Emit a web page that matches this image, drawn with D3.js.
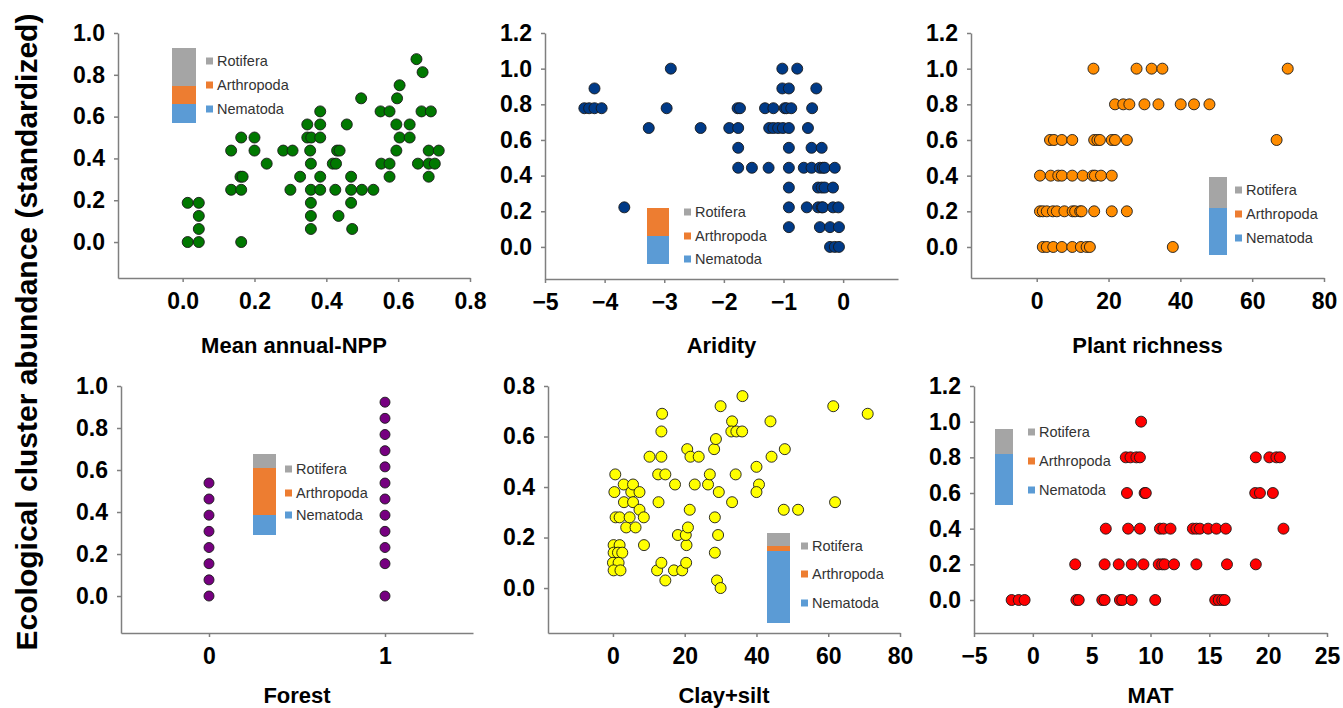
<!DOCTYPE html>
<html>
<head>
<meta charset="utf-8">
<script src="https://cdn.jsdelivr.net/npm/d3@7"></script>
<style>
body { margin: 0; background: #fff; }
svg { font-family: "Liberation Sans", Arial, sans-serif; }
.axis path, .axis line { stroke: #7f7f7f; stroke-width: 1.5px; }
.axis text { font-size: 23px; font-weight: bold; fill: #000; }
.title { font-size: 22px; font-weight: bold; text-anchor: middle; }
.leg text { font-size: 14.5px; fill: #333; }
.dot { stroke: #1a1a1a; stroke-width: 0.9px; }
</style>
</head>
<body>
<script>

// ---- data ----
var nppPoints = [[0.014,0],[0.045,0],[0.014,0.1875],[0.045,0.1875],[0.045,0.125],[0.045,0.0625],[0.163,0],
  [0.135,0.25],[0.163,0.25],[0.135,0.4375],[0.163,0.5],[0.161,0.3125],[0.167,0.3125],[0.2,0.5],[0.2,0.4375],
  [0.234,0.375],[0.28,0.4375],[0.306,0.4375],[0.30,0.25],[0.327,0.3125],[0.347,0.5625],[0.347,0.5],[0.358,0.5],
  [0.355,0.4375],[0.357,0.375],[0.357,0.25],[0.357,0.1875],[0.357,0.125],[0.357,0.0625],[0.383,0.625],
  [0.383,0.5625],[0.383,0.5],[0.383,0.3125],[0.383,0.25],[0.418,0.375],[0.427,0.375],[0.43,0.4375],
  [0.437,0.4375],[0.425,0.25],[0.434,0.125],[0.457,0.5625],[0.469,0.3125],[0.469,0.25],[0.469,0.1875],
  [0.472,0.0625],[0.499,0.25],[0.497,0.6875],[0.531,0.25],[0.551,0.625],[0.553,0.375],[0.576,0.625],
  [0.576,0.375],[0.576,0.3125],[0.597,0.6875],[0.604,0.75],[0.595,0.5625],[0.595,0.4375],[0.604,0.5],
  [0.632,0.5625],[0.632,0.5],[0.651,0.875],[0.668,0.8125],[0.665,0.625],[0.691,0.625],[0.655,0.375],
  [0.685,0.4375],[0.713,0.4375],[0.685,0.375],[0.702,0.375],[0.685,0.3125]];

var aridityPoints = [[-2.89,1],[-1.02,1],[-0.77,1],
  [-4.17,0.889],[-1.02,0.889],[-0.91,0.889],[-0.45,0.889],
  [-4.34,0.778],[-4.26,0.778],[-4.17,0.778],[-4.05,0.778],[-2.96,0.778],[-1.77,0.778],[-1.73,0.778],
  [-1.31,0.778],[-1.17,0.778],[-0.98,0.778],[-0.95,0.778],[-0.87,0.778],[-0.52,0.778],
  [-3.26,0.667],[-2.39,0.667],[-1.91,0.667],[-1.76,0.667],[-1.24,0.667],[-1.17,0.667],[-1.09,0.667],
  [-1.01,0.667],[-0.91,0.667],[-0.59,0.667],
  [-1.76,0.556],[-0.91,0.556],[-0.53,0.556],[-0.36,0.556],
  [-1.76,0.444],[-1.53,0.444],[-1.25,0.444],[-0.91,0.444],[-0.66,0.444],[-0.53,0.444],[-0.39,0.444],
  [-0.34,0.444],[-0.31,0.444],[-0.14,0.444],
  [-0.91,0.333],[-0.42,0.333],[-0.36,0.333],[-0.31,0.333],[-0.17,0.333],
  [-3.67,0.222],[-0.91,0.222],[-0.61,0.222],[-0.42,0.222],[-0.36,0.222],[-0.34,0.222],[-0.17,0.222],[-0.08,0.222],
  [-0.91,0.111],[-0.39,0.111],[-0.22,0.111],[-0.07,0.111],
  [-0.22,0],[-0.14,0],[-0.07,0]];

var richnessPoints = [[15.8,1],[27.8,1],[32.0,1],[35.0,1],[69.9,1],
  [21.8,0.8],[24.1,0.8],[25.8,0.8],[30.0,0.8],[33.9,0.8],[40.1,0.8],[43.8,0.8],[48.1,0.8],
  [3.7,0.6],[4.8,0.6],[7.0,0.6],[9.9,0.6],[16.0,0.6],[16.9,0.6],[17.6,0.6],[20.9,0.6],[21.8,0.6],[25.1,0.6],[66.8,0.6],
  [0.9,0.4],[3.9,0.4],[6.0,0.4],[7.0,0.4],[9.9,0.4],[12.8,0.4],[15.6,0.4],[16.2,0.4],[17.9,0.4],[20.9,0.4],
  [0.9,0.2],[1.7,0.2],[2.8,0.2],[4.5,0.2],[5.6,0.2],[7.7,0.2],[10.0,0.2],[10.7,0.2],[12.1,0.2],[12.5,0.2],
  [16.0,0.2],[20.9,0.2],[25.1,0.2],
  [1.7,0],[2.8,0],[4.6,0],[7.0,0],[9.9,0],[12.3,0],[13.9,0],[14.8,0],[37.9,0]];

var forestPoints = [[0,0.538],[0,0.462],[0,0.385],[0,0.308],[0,0.231],[0,0.154],[0,0.077],[0,0],
  [1,0.923],[1,0.846],[1,0.769],[1,0.692],[1,0.615],[1,0.538],[1,0.462],[1,0.385],[1,0.308],[1,0.231],
  [1,0.154],[1,0]];

var clayPoints = [[0.65,0.45],[0.4,0.38],[0.74,0.28],[1.86,0.28],[3.0,0.41],[3.07,0.34],[3.7,0.24],[4.65,0.28],
  [5.1,0.38],[5.6,0.41],[5.6,0.34],[6.3,0.24],[7.4,0.38],[7.4,0.31],[8.6,0.28],[8.65,0.17],[0.19,0.17],
  [1.86,0.17],[0.19,0.14],[1.4,0.14],[2.6,0.14],[0,0.10],[1.58,0.10],[0.19,0.07],[2.1,0.07],
  [10.2,0.52],[12.6,0.45],[13.5,0.52],[13.5,0.62],[13.7,0.69],[14.6,0.45],[12.7,0.34],[17.3,0.41],
  [12.3,0.07],[13.5,0.10],[14.6,0.03],[17.0,0.07],[18.1,0.21],[19.3,0.07],[20.4,0.10],[20.5,0.17],
  [20.3,0.21],[20.9,0.24],[21.4,0.31],[20.7,0.55],[21.6,0.52],[23.9,0.52],[22.8,0.41],[26.5,0.41],
  [27.0,0.45],[28.2,0.55],[28.7,0.59],[28.4,0.28],[29.3,0.21],[28.4,0.14],[29.0,0.03],[30.0,0],
  [29.5,0.38],[30.0,0.72],[33.2,0.66],[33.0,0.62],[34.4,0.62],[36.0,0.62],[36.1,0.76],[33.2,0.34],
  [34.2,0.45],[40.0,0.48],[40.7,0.41],[40.0,0.38],[43.9,0.66],[44.2,0.52],[47.9,0.55],[47.6,0.31],
  [51.6,0.31],[61.4,0.72],[61.9,0.34],[71.0,0.69]];

var matPoints = [[9.2,1],
  [7.9,0.8],[8.3,0.8],[8.8,0.8],[9.1,0.8],[18.95,0.8],[20.1,0.8],[20.7,0.8],[21.0,0.8],
  [8.0,0.6],[9.5,0.6],[9.6,0.6],[18.9,0.6],[19.3,0.6],[20.4,0.6],
  [6.2,0.4],[8.1,0.4],[9.1,0.4],[10.8,0.4],[11.1,0.4],[11.7,0.4],[13.6,0.4],[13.9,0.4],[14.2,0.4],
  [14.9,0.4],[15.6,0.4],[16.4,0.4],[21.3,0.4],
  [3.6,0.2],[6.1,0.2],[7.3,0.2],[8.4,0.2],[9.4,0.2],[10.7,0.2],[11.0,0.2],[11.2,0.2],[12.0,0.2],
  [13.9,0.2],[16.5,0.2],[18.95,0.2],
  [-1.8,0],[-1.2,0],[-0.7,0],[3.7,0],[3.9,0],[5.9,0],[6.1,0],[7.4,0],[7.6,0],[8.4,0],[10.4,0],
  [15.5,0],[15.8,0],[16.1,0],[16.3,0]];

var panelTitles = ["Mean annual-NPP", "Aridity", "Plant richness", "Forest", "Clay+silt", "MAT"];
var xTicks = [[0,0.2,0.4,0.6,0.8], [-5,-4,-3,-2,-1,0], [0,20,40,60,80], [0,1], [0,20,40,60,80], [-5,0,5,10,15,20,25]];
var yTicks = [[0,0.2,0.4,0.6,0.8,1.0], [0,0.2,0.4,0.6,0.8,1.0,1.2], [0,0.2,0.4,0.6,0.8,1.0,1.2],
  [0,0.2,0.4,0.6,0.8,1.0], [0,0.2,0.4,0.6,0.8], [0,0.2,0.4,0.6,0.8,1.0,1.2]];

// inset stacked bars (relative share of each group)
var groups = ["Rotifera", "Arthropoda", "Nematoda"];
var nematodaShare   = [0.19, 0.28, 0.47, 0.20, 0.72, 0.51];
var arthropodaShare = [0.18, 0.28, 0.00, 0.47, 0.05, 0.00];
var rotiferaShare   = [0.38, 0.00, 0.31, 0.14, 0.13, 0.25];

// ---- layout ----
var width = 1343, height = 708;
var groupColor = {"Rotifera": "#a5a5a5", "Arthropoda": "#ed7d31", "Nematoda": "#5b9bd5"};

var panels = [
  {pts: nppPoints,      fill: "#007800", r: 5.5, xd: [-0.18, 0.8],  xr: [118, 470], yd: [-0.172, 1.0], yr: [278, 33],  xf: ".1f", tdy: 75,
   leg: {bx: 172, bw: 24, bb: 123, sx: 206, rows: [61, 85, 109]}},
  {pts: aridityPoints,  fill: "#003a87", r: 5.5, xd: [-5, 0.92],    xr: [545, 898], yd: [-0.18, 1.2],  yr: [279, 33],  xf: "d", tdy: 74,
   leg: {bx: 647, bw: 22, bb: 264, sx: 684, rows: [212, 236, 259]}},
  {pts: richnessPoints, fill: "#ff8c00", r: 5.5, xd: [-18.3, 80],   xr: [971, 1324], yd: [-0.174, 1.2], yr: [278, 33], xf: "d", tdy: 75,
   leg: {bx: 1209, bw: 18, bb: 255, sx: 1235, rows: [190, 214, 238]}},
  {pts: forestPoints,   fill: "#760080", r: 5,   xd: [-0.5, 1.5],   xr: [121, 473], yd: [-0.176, 1.0], yr: [633, 386], xf: "d", tdy: 70,
   leg: {bx: 253, bw: 23, bb: 535, sx: 285, rows: [469, 493, 515]}},
  {pts: clayPoints,     fill: "#ffff00", r: 5.5, xd: [-18.1, 80],   xr: [548, 900], yd: [-0.178, 0.8], yr: [633, 386], xf: "d", tdy: 70,
   leg: {bx: 767, bw: 23, bb: 623, sx: 801, rows: [546, 574, 603]}},
  {pts: matPoints,      fill: "#ff0000", r: 5.5, xd: [-5, 25],      xr: [974, 1327], yd: [-0.185, 1.2], yr: [633, 386], xf: "d", tdy: 70,
   leg: {bx: 995, bw: 18, bb: 505, sx: 1028, rows: [432, 461, 490]}}
];

var svg = d3.select("body").append("svg")
    .attr("width", width)
    .attr("height", height);

// shared y label
svg.append("text")
    .attr("transform", "translate(37,332) rotate(-90)")
    .attr("text-anchor", "middle")
    .style("font-size", "30px")
    .style("font-weight", "bold")
    .text("Ecological cluster abundance (standardized)");

// one pixel of inset bar per 0.01 of share
var barScale = d3.scaleLinear().domain([0, 1]).range([0, 100]);

panels.forEach(function(p, i) {
  var x = d3.scaleLinear().domain(p.xd).range(p.xr);
  var y = d3.scaleLinear().domain(p.yd).range(p.yr);
  var g = svg.append("g");

  g.append("g").attr("class", "axis")
      .attr("transform", "translate(" + p.xr[0] + ",0)")
      .call(d3.axisLeft(y).tickValues(yTicks[i]).tickFormat(d3.format(".1f"))
        .tickSizeInner(4).tickSizeOuter(0).tickPadding(9));

  g.append("g").attr("class", "axis")
      .attr("transform", "translate(0," + p.yr[0] + ")")
      .call(d3.axisBottom(x).tickValues(xTicks[i]).tickFormat(d3.format(p.xf))
        .tickSizeInner(4).tickSizeOuter(0).tickPadding(11));

  g.append("text").attr("class", "title")
      .attr("x", (p.xr[0] + p.xr[1]) / 2)
      .attr("y", p.yr[0] + p.tdy)
      .text(panelTitles[i]);

  // inset stacked bar + legend
  var leg = g.append("g").attr("class", "leg");
  var segs = [
    {name: "Nematoda", v: nematodaShare[i]},
    {name: "Arthropoda", v: arthropodaShare[i]},
    {name: "Rotifera", v: rotiferaShare[i]}
  ];
  var base = 0;
  segs.forEach(function(s) {
    leg.append("rect")
        .attr("x", p.leg.bx)
        .attr("y", p.leg.bb - barScale(base + s.v))
        .attr("width", p.leg.bw)
        .attr("height", barScale(s.v))
        .attr("fill", groupColor[s.name]);
    base += s.v;
  });
  groups.forEach(function(name, k) {
    leg.append("rect")
        .attr("x", p.leg.sx).attr("y", p.leg.rows[k] - 3.5)
        .attr("width", 7).attr("height", 7)
        .attr("fill", groupColor[name]);
    leg.append("text")
        .attr("x", p.leg.sx + 11).attr("y", p.leg.rows[k])
        .attr("dy", "0.35em")
        .text(name);
  });

  g.append("g").selectAll("circle")
      .data(p.pts)
      .enter().append("circle")
      .attr("class", "dot")
      .attr("cx", function(d) { return x(d[0]); })
      .attr("cy", function(d) { return y(d[1]); })
      .attr("r", p.r)
      .attr("fill", p.fill);
});

</script>
</body>
</html>
